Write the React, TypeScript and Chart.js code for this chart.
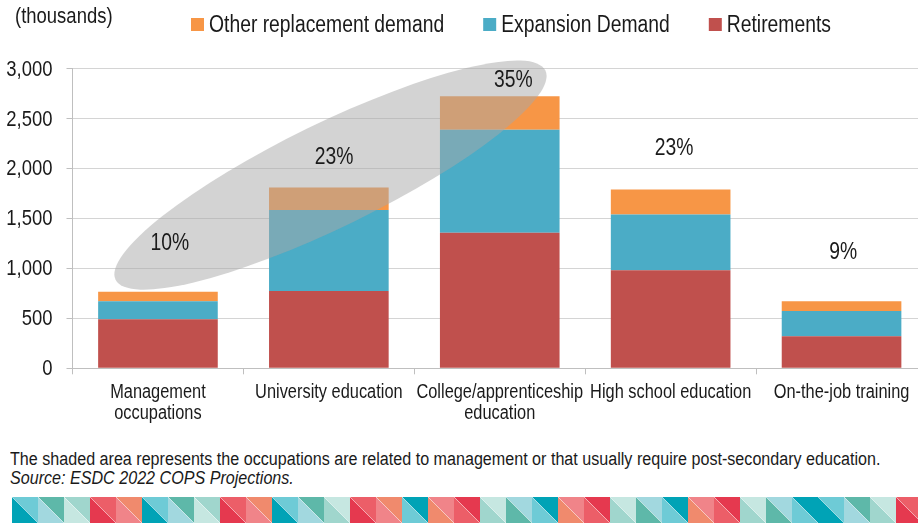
import React, { useEffect, useRef } from 'react';
import { Chart, registerables } from 'chart.js';

Chart.register(...registerables);

const FONT = "'Liberation Sans', Arial, sans-serif";
const TEXT = '#1a1a1a';
const SQUEEZE = 0.84; // narrow (Arial Narrow-like) text look
const NOTE_SQUEEZE = 0.895;

// ---- data ----
const categories: string[][] = [
  ['Management', 'occupations'],
  ['University education'],
  ['College/apprenticeship', 'education'],
  ['High school education'],
  ['On-the-job training'],
];
const retirements = [490, 773, 1357, 980, 320];
const expansionDemand = [180, 810, 1030, 560, 253];
const otherReplacement = [97, 227, 336, 250, 97];

const shareLabels = ['10%', '23%', '35%', '23%', '9%'];
const shareLabelValues = [1250, 2110, 2880, 2200, 1155];
const shareLabelOffsets = [0.07, 0.03, 0.08, 0.02, 0.01];

const yTickValues = [0, 500, 1000, 1500, 2000, 2500, 3000];
const yTickLabels = ['0', '500', '1,000', '1,500', '2,000', '2,500', '3,000'];

// shaded ellipse: tips in data units (category index, value)
const ellipseTipsX = [-0.248, 2.267];
const ellipseTipsY = [886, 2980];
const ellipseMinorRatio = 0.2176;

// decorative strip colours
const T1 = '#00A3B6', T2 = '#6ECBD6', T3 = '#A2D8DF', T4 = '#5EB8A9', T5 = '#A0D6CD', T6 = '#C6E7E1';
const R1 = '#E5394F', R2 = '#EC5E68', R3 = '#F08489', R4 = '#F08A6D';
const stripPairs: [string, string][] = [
  [T2, T1], [T4, T3], [T5, T6], [R2, R1], [R4, R3],
  [T2, T1], [T4, T3], [T5, T6], [R2, R1], [R4, R3],
  [T2, T1], [T4, T3], [T6, T5], [R2, R1], [R4, R3],
  [T1, T2], [R3, R4], [R1, R2], [T6, T5], [T3, T4],
  [T1, T2], [R3, R4], [R1, R2], [T6, T5], [T3, T4],
  [T1, T2], [R3, R4], [R1, R2], [T6, T5], [T3, T4],
  [T1, T2], [T2, T1], [T4, T3], [T6, T5], [R2, R1],
];

function narrowText(
  ctx: CanvasRenderingContext2D,
  text: string,
  x: number,
  y: number,
  size: number,
  align: CanvasTextAlign,
  baseline: CanvasTextBaseline
) {
  ctx.save();
  ctx.font = `${size}px ${FONT}`;
  ctx.textAlign = align;
  ctx.textBaseline = baseline;
  ctx.fillStyle = TEXT;
  ctx.translate(x, y);
  ctx.scale(SQUEEZE, 1);
  ctx.fillText(text, 0, 0);
  ctx.restore();
}

function narrowWidth(ctx: CanvasRenderingContext2D, text: string, size: number) {
  ctx.save();
  ctx.font = `${size}px ${FONT}`;
  const w = ctx.measureText(text).width * SQUEEZE;
  ctx.restore();
  return w;
}

const overlayPlugin = {
  id: 'overlay',
  afterDatasetsDraw(chart: any) {
    const { ctx, chartArea } = chart;
    const x = chart.scales.x;
    const y = chart.scales.y;

    // shaded ellipse
    const x1 = x.getPixelForValue(ellipseTipsX[0]);
    const x2 = x.getPixelForValue(ellipseTipsX[1]);
    const y1 = y.getPixelForValue(ellipseTipsY[0]);
    const y2 = y.getPixelForValue(ellipseTipsY[1]);
    const a = Math.hypot(x2 - x1, y2 - y1) / 2;
    ctx.save();
    ctx.beginPath();
    ctx.ellipse((x1 + x2) / 2, (y1 + y2) / 2, a, a * ellipseMinorRatio, Math.atan2(y2 - y1, x2 - x1), 0, Math.PI * 2);
    ctx.fillStyle = 'rgba(167,167,167,0.5)';
    ctx.fill();
    ctx.restore();

    // share labels
    shareLabels.forEach((t, i) => {
      narrowText(ctx, t, x.getPixelForValue(i + shareLabelOffsets[i]), y.getPixelForValue(shareLabelValues[i]), 23, 'center', 'middle');
    });

    // y tick labels
    yTickValues.forEach((v, i) => {
      narrowText(ctx, yTickLabels[i], chartArea.left - 20, y.getPixelForValue(v) + 1, 22, 'right', 'middle');
    });

    // x tick labels
    categories.forEach((lines, i) => {
      lines.forEach((ln, j) => {
        narrowText(ctx, ln, x.getPixelForValue(i), chartArea.bottom + 24 + j * 21, 19.5, 'center', 'middle');
      });
    });

    // unit label
    narrowText(ctx, '(thousands)', 15, 22.5, 22, 'left', 'alphabetic');

    // legend
    let lx = 191;
    for (const di of [2, 1, 0]) {
      const ds = chart.data.datasets[di];
      ctx.save();
      ctx.fillStyle = ds.backgroundColor;
      ctx.fillRect(lx, 18, 13, 13);
      ctx.restore();
      lx += 18;
      narrowText(ctx, ds.label, lx, 32, 23, 'left', 'alphabetic');
      lx += narrowWidth(ctx, ds.label, 23) + 39;
    }
  },
};

export default function App() {
  const ref = useRef<HTMLCanvasElement>(null);
  useEffect(() => {
    const chart = new Chart(ref.current as HTMLCanvasElement, {
      type: 'bar',
      data: {
        labels: categories.map((c) => c.join(' ')),
        datasets: [
          { label: 'Retirements', data: retirements, backgroundColor: '#C0504D' },
          { label: 'Expansion Demand', data: expansionDemand, backgroundColor: '#4BACC6' },
          { label: 'Other replacement demand', data: otherReplacement, backgroundColor: '#F79646' },
        ],
      },
      options: {
        responsive: false,
        animation: false,
        layout: { padding: { top: 68.5, left: 0, right: 8, bottom: 11.7 } },
        plugins: { legend: { display: false }, tooltip: { enabled: false } },
        datasets: { bar: { barPercentage: 0.7, categoryPercentage: 1 } },
        scales: {
          x: {
            stacked: true,
            grid: { display: true, drawOnChartArea: false, drawTicks: true, tickLength: 6, tickColor: '#BFBFBF', offset: true },
            border: { color: '#BFBFBF' },
            ticks: { display: false, autoSkip: false },
            afterFit: (s: any) => { s.height = 60; },
          },
          y: {
            stacked: true,
            min: 0,
            max: 3000,
            afterBuildTicks: (s: any) => { s.ticks = yTickValues.map((v) => ({ value: v })); },
            ticks: { display: false },
            grid: { color: '#D4D4D4', tickColor: '#BFBFBF', tickLength: 6 },
            border: { color: '#BFBFBF' },
            afterFit: (s: any) => { s.width = 72.5; },
          },
        },
      } as any,
      plugins: [overlayPlugin],
    });
    return () => chart.destroy();
  }, []);

  const sq = 26;
  return (
    <div style={{ position: 'absolute', left: 0, top: 0, width: 918, height: 527, overflow: 'hidden', background: '#fff' }}>
      <canvas ref={ref} width={935} height={440} style={{ display: 'block', position: 'absolute', left: 0, top: 0 }} />
      <div
        style={{
          position: 'absolute',
          left: 10,
          top: 450,
          font: `18px ${FONT}`,
          lineHeight: '19px',
          color: TEXT,
          whiteSpace: 'nowrap',
          transform: `scaleX(${NOTE_SQUEEZE})`,
          transformOrigin: 'left top',
        }}
      >
        The shaded area represents the occupations are related to management or that usually require post-secondary education.
        <br />
        <i>Source: ESDC 2022 COPS Projections.</i>
      </div>
      <svg width={918} height={30} style={{ position: 'absolute', left: 0, top: 497 }}>
        {stripPairs.map(([up, low], i) => {
          const x0 = 12 + i * sq;
          return (
            <g key={i}>
              <polygon points={`${x0},0 ${x0 + sq},0 ${x0 + sq},${sq}`} fill={up} />
              <polygon points={`${x0},0 ${x0},${sq} ${x0 + sq},${sq}`} fill={low} />
              <line x1={x0} y1={0} x2={x0 + sq} y2={sq} stroke="#ffffff" strokeOpacity={0.5} strokeWidth={0.8} />
            </g>
          );
        })}
      </svg>
    </div>
  );
}
